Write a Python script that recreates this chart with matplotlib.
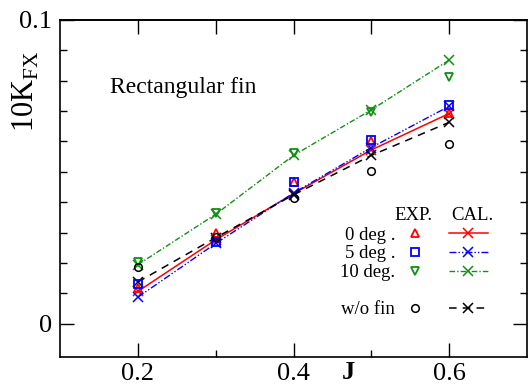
import matplotlib
matplotlib.use("Agg")
import matplotlib.pyplot as plt
from matplotlib.lines import Line2D
from matplotlib.ticker import FixedLocator

plt.rcParams['font.family'] = ['Liberation Serif', 'DejaVu Serif']
plt.rcParams['mathtext.fontset'] = 'custom'
plt.rcParams['mathtext.rm'] = 'Liberation Serif'

# data
J = [0.2, 0.3, 0.4, 0.5, 0.6]
exp_0 = [0.0118, 0.0298, 0.0466, 0.0600, 0.0693]
exp_5 = [0.0130, 0.0268, 0.0466, 0.0605, 0.0720]
exp_10 = [0.0203, 0.0365, 0.0563, 0.0698, 0.0812]
exp_nofin = [0.0185, 0.0284, 0.0413, 0.0503, 0.0591]
cal_0 = [0.0106, 0.0276, 0.0428, 0.0572, 0.0692]
cal_5 = [0.0087, 0.0264, 0.0430, 0.0580, 0.0716]
cal_10 = [0.0194, 0.0360, 0.0554, 0.0704, 0.0868]
cal_nofin = [0.0137, 0.0283, 0.0424, 0.0554, 0.0663]
row_labels = ["0 deg .", "5 deg .", "10 deg.", " ", "w/o fin"]

red, blue, green, black = "#ff0000", "#0000ff", "#119011", "#000000"
dashdotdot = (0, (5, 1.5, 1, 1.5, 1, 1.5))
dashdot = (0, (4, 1.5, 1, 1.5))
dashed = (0, (5, 4))

fig = plt.figure(figsize=(5.28, 3.86), dpi=100)
ax = fig.add_axes([60 / 528, 1 - 357 / 386, 467 / 528, 337 / 386])

ms = 5.5
ax.plot(J, cal_0, color=red, ls='-', lw=1.1, marker='x', ms=7, mew=1.1)
ax.plot(J, cal_5, color=blue, ls=dashdotdot, lw=1.0, marker='x', ms=7, mew=1.1)
ax.plot(J, cal_10, color=green, ls=dashdot, lw=1.0, marker='x', ms=7, mew=1.1)
ax.plot(J, cal_nofin, color=black, ls=dashed, lw=1.1, marker='x', ms=7, mew=1.1)
ax.plot(J, exp_0, ls='none', marker='^', ms=ms, mfc='none', mec=red, mew=1.3)
ax.plot(J, exp_5, ls='none', marker='s', ms=ms, mfc='none', mec=blue, mew=1.3)
ax.plot(J, exp_10, ls='none', marker='v', ms=ms, mfc='none', mec=green, mew=1.3)
ax.plot(J, exp_nofin, ls='none', marker='o', ms=ms, mfc='none', mec=black, mew=1.1)

ax.set_xlim(0.1, 0.7)
ax.set_ylim(-0.011, 0.1)
ax.xaxis.set_major_locator(FixedLocator([0.2, 0.4, 0.6]))
ax.xaxis.set_minor_locator(FixedLocator([0.3, 0.5]))
ax.yaxis.set_major_locator(FixedLocator([0.0, 0.1]))
ax.yaxis.set_minor_locator(FixedLocator([0.01 * i for i in range(1, 10)]))
ax.set_xticklabels(["0.2", "0.4", "0.6"])
ax.set_yticklabels(["0", "0.1"])
ax.tick_params(which='both', direction='in', left=True, right=True,
               bottom=True, top=False, width=1.0, labelsize=19)
ax.tick_params(which='major', length=10)
ax.tick_params(which='minor', length=5)
ax.tick_params(axis='x', pad=4)
ax.tick_params(axis='y', pad=6)
top = ax.secondary_xaxis('top')
top.set_xticks([0.2, 0.3, 0.4, 0.5, 0.6])
top.tick_params(direction='in', length=10, width=1.0, labeltop=False)
for sp in list(ax.spines.values()) + [top.spines['top']]:
    sp.set_linewidth(1.2)

ax.set_ylabel(r"10K$_{\mathrm{FX}}$", fontsize=22)
ax.yaxis.set_label_coords(-0.072, 0.788)
ax.yaxis.label.set_va('center')
ax.set_xlabel("J", fontsize=19, fontweight='bold')
ax.xaxis.set_label_coords(0.6167, -0.045)
ax.xaxis.label.set_va('center')

ax.text(50 / 467, 0.8, "Rectangular fin", fontsize=17,
        transform=ax.transAxes, ha='left', va='center')

# legend: EXP markers with row labels, then CAL lines
exp_handles = [
    Line2D([], [], ls='none', marker='^', ms=ms, mfc='none', mec=red, mew=1.3),
    Line2D([], [], ls='none', marker='s', ms=ms, mfc='none', mec=blue, mew=1.3),
    Line2D([], [], ls='none', marker='v', ms=ms, mfc='none', mec=green, mew=1.3),
    Line2D([], [], ls='none'),
    Line2D([], [], ls='none', marker='o', ms=ms, mfc='none', mec=black, mew=1.1),
]
cal_handles = [
    Line2D([], [], color=red, ls='-', lw=1.1, marker='x', ms=7, mew=1.1),
    Line2D([], [], color=blue, ls=dashdotdot, lw=1.0, marker='x', ms=7, mew=1.1),
    Line2D([], [], color=green, ls=dashdot, lw=1.0, marker='x', ms=7, mew=1.1),
    Line2D([], [], ls='none'),
    Line2D([], [], color=black, ls=dashed, lw=1.1, marker='x', ms=7, mew=1.1),
]
leg = ax.legend(exp_handles + cal_handles, row_labels + [" "] * 5, ncol=2,
                markerfirst=False, frameon=False, fontsize=13.5,
                handlelength=2.1, handletextpad=0.0, columnspacing=0.5,
                labelspacing=0.08, borderpad=0, borderaxespad=0,
                numpoints=1, loc='center right',
                bbox_to_anchor=((488 - 60) / 467, (357 - 272.5) / 337))
ax.text((414 - 60) / 467, (357 - 216) / 337, "EXP.", fontsize=13.5,
        transform=ax.transAxes, ha='center', va='center')
ax.text((472 - 60) / 467, (357 - 216) / 337, "CAL.", fontsize=13.5,
        transform=ax.transAxes, ha='center', va='center')

fig.savefig("out.png", dpi=100)
